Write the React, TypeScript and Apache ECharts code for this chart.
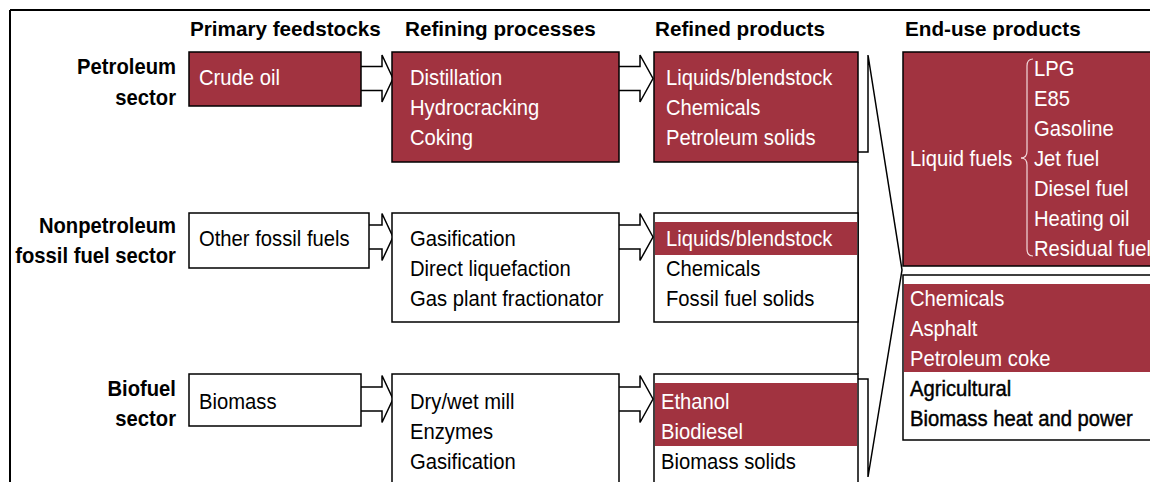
import React, { useEffect, useRef } from 'react';
import * as echarts from 'echarts';

// ---- Diagram content ----
const headers = ['Primary feedstocks', 'Refining processes', 'Refined products', 'End-use products'];
const sectorLabels = [
  ['Petroleum', 'sector'],
  ['Nonpetroleum', 'fossil fuel sector'],
  ['Biofuel', 'sector'],
];
const feedstocks = ['Crude oil', 'Other fossil fuels', 'Biomass'];
const feedstockHighlighted = [true, false, false];
const processes = [
  ['Distillation', 'Hydrocracking', 'Coking'],
  ['Gasification', 'Direct liquefaction', 'Gas plant fractionator'],
  ['Dry/wet mill', 'Enzymes', 'Gasification'],
];
const processHighlighted = [true, false, false];
const refinedProducts = [
  ['Liquids/blendstock', 'Chemicals', 'Petroleum solids'],
  ['Liquids/blendstock', 'Chemicals', 'Fossil fuel solids'],
  ['Ethanol', 'Biodiesel', 'Biomass solids'],
];
// how many leading lines of each refined-products box are highlighted
const refinedHighlightedLines = [3, 1, 2];
const liquidFuelsLabel = 'Liquid fuels';
const liquidFuels = ['LPG', 'E85', 'Gasoline', 'Jet fuel', 'Diesel fuel', 'Heating oil', 'Residual fuel'];
const otherEndUse = ['Chemicals', 'Asphalt', 'Petroleum coke', 'Agricultural', 'Biomass heat and power'];
const otherEndUseHighlightedLines = 3;

// ---- Styles ----
const MAROON = '#A13340';
const FONT = '"Liberation Sans", Arial, Helvetica, sans-serif';

function txt(text: string, x: number, y: number, o: any = {}) {
  const style: any = {
    text,
    fill: o.fill ?? '#000',
    fontFamily: FONT,
    fontSize: o.size ?? 22,
    fontWeight: o.bold ? 'bold' : 'normal',
    textAlign: o.align ?? 'left',
    align: o.align ?? 'left',
    textVerticalAlign: 'middle',
    verticalAlign: 'middle',
  };
  if (o.heavy) {
    style.stroke = '#000';
    style.lineWidth = 0.45;
  }
  return {
    type: 'text',
    x,
    y,
    scaleX: o.scaleX ?? 0.92,
    z: 10,
    style,
  };
}

function box(x: number, y: number, w: number, h: number, fill: string) {
  return {
    type: 'rect',
    z: 5,
    shape: { x, y, width: w, height: h },
    style: { fill, stroke: '#000', lineWidth: 1.5 },
  };
}

function band(x: number, y: number, w: number, h: number) {
  return {
    type: 'rect',
    z: 6,
    shape: { x, y, width: w, height: h },
    style: { fill: MAROON, stroke: null },
  };
}

function arrow(x0: number, xb: number, tip: number, cy: number) {
  const s = 12;
  const hh = 23.5;
  return {
    type: 'polygon',
    z: 4,
    shape: {
      points: [
        [x0 - 2, cy - s],
        [xb, cy - s],
        [xb, cy - hh],
        [tip, cy],
        [xb, cy + hh],
        [xb, cy + s],
        [x0 - 2, cy + s],
      ],
    },
    style: { fill: '#fff', stroke: '#000', lineWidth: 1.5 },
  };
}

function line(x1: number, y1: number, x2: number, y2: number, w = 1.5) {
  return {
    type: 'line',
    z: 3,
    shape: { x1, y1, x2, y2 },
    style: { stroke: '#000', lineWidth: w },
  };
}

function buildElements() {
  const els: any[] = [];

  // outer frame
  els.push(line(10, 10, 1150, 10, 2));
  els.push(line(10, 10, 10, 482, 2));

  // headers
  const headerX = [190, 405, 655, 905];
  headers.forEach((h, i) => els.push(txt(h, headerX[i], 28.5, { bold: true, size: 21, scaleX: 0.985 })));

  // rows
  const rowTop = [52, 213, 374];
  const lineY0 = [77, 238.5, 401.5];
  const step = 30;
  const sectorY = [[66, 97], [225, 255], [388, 418]];
  const feedW = [172, 180, 172];
  const feedH = [54, 55, 52];
  const procH = [110, 109, 130];
  const arrowCy = [78.5, 237, 399];
  const refinedTextX = [666, 666, 661];
  const bandTop = [0, 222, 383];

  for (let r = 0; r < 3; r++) {
    // sector label
    sectorLabels[r].forEach((s, k) =>
      els.push(txt(s, 176, sectorY[r][k], { bold: true, align: 'right', scaleX: 0.92 }))
    );

    // feedstock box
    const fFill = feedstockHighlighted[r] ? MAROON : '#fff';
    els.push(box(189, rowTop[r], feedW[r], feedH[r], fFill));
    els.push(txt(feedstocks[r], 199, lineY0[r], { fill: feedstockHighlighted[r] ? '#fff' : '#000' }));

    // arrows
    els.push(arrow(189 + feedW[r], 382, 393, arrowCy[r]));
    els.push(arrow(619, 640, 653, arrowCy[r]));

    // process box
    const pFill = processHighlighted[r] ? MAROON : '#fff';
    els.push(box(392, rowTop[r], 227, procH[r], pFill));
    processes[r].forEach((p, k) =>
      els.push(txt(p, 410, lineY0[r] + k * step, { fill: processHighlighted[r] ? '#fff' : '#000' }))
    );

    // refined products box
    const nHi = refinedHighlightedLines[r];
    const fullHi = nHi === refinedProducts[r].length;
    els.push(box(654, rowTop[r], 204, procH[r], fullHi ? MAROON : '#fff'));
    if (!fullHi && nHi > 0) {
      els.push(band(655, bandTop[r], 202, nHi * step + 3));
    }
    refinedProducts[r].forEach((p, k) =>
      els.push(txt(p, refinedTextX[r], lineY0[r] + k * step, { fill: k < nHi ? '#fff' : '#000' }))
    );
  }

  // connectors between refined boxes and end-use funnel
  els.push(line(858, 162, 858, 374));
  els.push({
    type: 'polyline',
    z: 3,
    shape: {
      points: [
        [858, 152],
        [868, 152],
        [868, 55],
        [902, 270],
        [868, 477],
        [868, 379],
        [858, 379],
      ],
    },
    style: { stroke: '#000', lineWidth: 1.5, fill: null },
  });

  // end-use: liquid fuels box
  els.push(box(903, 52, 320, 214, MAROON));
  els.push(txt(liquidFuelsLabel, 910, 158, { fill: '#fff' }));
  liquidFuels.forEach((f, k) => els.push(txt(f, 1034, 68 + k * step, { fill: '#fff' })));

  // brace
  const braceStyle = { stroke: '#F3DADC', lineWidth: 1.2, fill: null };
  const bx = 1027;
  els.push({ type: 'bezierCurve', z: 9, shape: { x1: 1033, y1: 59, cpx1: bx, cpy1: 59, x2: bx, y2: 66 }, style: braceStyle });
  els.push({ type: 'line', z: 9, shape: { x1: bx, y1: 66, x2: bx, y2: 151 }, style: braceStyle });
  els.push({ type: 'bezierCurve', z: 9, shape: { x1: bx, y1: 151, cpx1: bx, cpy1: 158, x2: 1021, y2: 158 }, style: braceStyle });
  els.push({ type: 'bezierCurve', z: 9, shape: { x1: 1021, y1: 158, cpx1: bx, cpy1: 158, x2: bx, y2: 165 }, style: braceStyle });
  els.push({ type: 'line', z: 9, shape: { x1: bx, y1: 165, x2: bx, y2: 249 }, style: braceStyle });
  els.push({ type: 'bezierCurve', z: 9, shape: { x1: bx, y1: 249, cpx1: bx, cpy1: 256, x2: 1033, y2: 256 }, style: braceStyle });

  // end-use: other products box
  els.push(box(903, 275, 320, 165, '#fff'));
  els.push(band(904, 284, 300, otherEndUseHighlightedLines * step - 2));
  otherEndUse.forEach((p, k) => {
    const hi = k < otherEndUseHighlightedLines;
    els.push(txt(p, 910, 298.5 + k * step, { fill: hi ? '#fff' : '#000', heavy: !hi }));
  });

  return els;
}

export default function App() {
  const ref = useRef<HTMLDivElement>(null);
  useEffect(() => {
    if (!ref.current) return;
    const chart = echarts.init(ref.current, undefined, { renderer: 'svg' });
    chart.setOption({
      animation: false,
      backgroundColor: '#fff',
      graphic: { elements: buildElements() },
    });
    return () => chart.dispose();
  }, []);
  return (
    <div
      ref={ref}
      style={{ position: 'absolute', left: 0, top: 0, width: 1150, height: 482, background: '#fff' }}
    />
  );
}
